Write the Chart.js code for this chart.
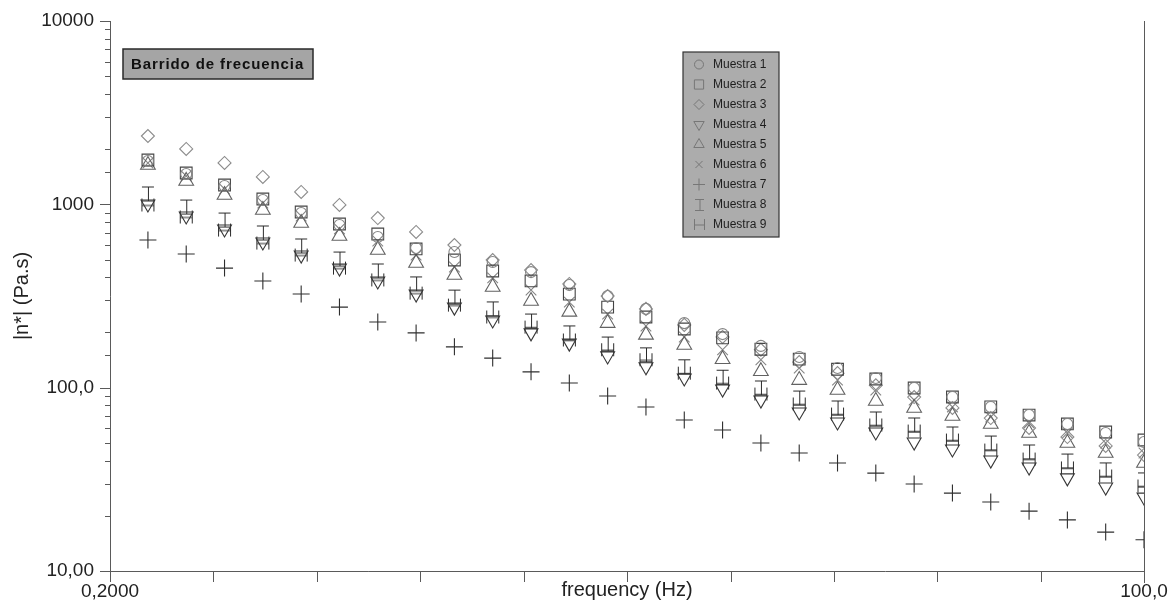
<!DOCTYPE html>
<html lang="es">
<head>
  <meta charset="UTF-8" />
  <title>Barrido de frecuencia</title>
  <style>
    html, body { margin: 0; padding: 0; background: #fff; }
    #grafico { display: block; }
  </style>
</head>
<body>
  <canvas id="grafico" width="1170" height="607"></canvas>

  <script src="https://cdn.jsdelivr.net/npm/chart.js"></script>
  <script>
    // Datos (Hz, Pa.s)
    const frecuencias = [0.2512, 0.3162, 0.3981, 0.5012, 0.6310, 0.7943, 1.000, 1.259, 1.585,
      1.995, 2.512, 3.162, 3.981, 5.012, 6.310, 7.943, 10.00, 12.59, 15.85, 19.95, 25.12,
      31.62, 39.81, 50.12, 63.10, 79.43, 100.0];

    const muestra1 = [1723, 1464, 1259, 1056, 897, 772, 663, 578, 550, 485, 427, 363, 316, 269,
      225, 196, 169, 147, 128, 113, 99.6, 88.9, 78.5, 70.9, 63.4, 56.6, 50.5];
    const muestra2 = [1745, 1482, 1275, 1069, 908, 781, 689, 571, 497, 433, 382, 324, 275, 243,
      209, 187, 162, 143, 126, 111.5, 99.6, 88.9, 78.5, 70.9, 63.4, 57.3, 51.8];
    const muestra3 = [2359, 2004, 1681, 1410, 1168, 992, 842, 707, 600, 497, 438, 368, 316, 269,
      220, 189, 161, 138, 120, 103, 88.9, 77.5, 68.3, 60.3, 53.8, 48.1, 42.9];
    const muestra4 = [1004, 864, 734, 623, 529, 449, 382, 324, 275, 234, 199, 175, 149, 130,
      113, 98.3, 85.6, 73.7, 65.0, 57.3, 50.5, 46.3, 40.3, 36.9, 32.2, 28.7, 25.3];
    const muestra5 = [1639, 1341, 1124, 931, 791, 672, 564, 479, 412, 354, 297, 259, 225, 194,
      171, 143, 123, 110, 97.1, 84.6, 77.5, 70.1, 63.4, 56.6, 49.9, 44.0, 38.8];
    const muestra6 = [1681, 1427, 1212, 1017, 864, 734, 631, 529, 455, 397, 341, 293, 252, 217,
      189, 161, 142, 128, 110, 97.1, 85.6, 78.5, 69.2, 64.2, 56.6, 49.9, 44.0];
    const muestra7 = [639, 536, 449, 382, 324, 275, 228, 199, 167, 145, 122, 106, 90.0, 78.5,
      66.6, 58.8, 49.9, 44.0, 38.8, 34.2, 29.8, 26.6, 23.8, 21.2, 19.0, 16.3, 14.8];
    const muestra8 = [1139, 967, 821, 698, 593, 503, 433, 368, 312, 269, 231, 199, 173, 151,
      130, 114, 99.6, 87.8, 77.5, 67.5, 62.6, 55.9, 49.9, 44.6, 39.8, 35.6, 31.4];
    const muestra9 = [992, 853, 724, 615, 529, 449, 387, 328, 282, 243, 214, 182, 161, 142,
      120, 106, 92.3, 81.5, 71.8, 62.6, 58.0, 51.8, 45.7, 40.8, 36.5, 33.0, 29.1];

    const nombres = ['Muestra 1', 'Muestra 2', 'Muestra 3', 'Muestra 4', 'Muestra 5',
      'Muestra 6', 'Muestra 7', 'Muestra 8', 'Muestra 9'];

    const xTicks = [0.2, 0.3724, 0.6934, 1.291, 2.404, 4.477, 8.335, 15.52, 28.90, 53.82, 100];
    const xTickText = ['0,2000', '', '', '', '', '', '', '', '', '', '100,0'];
    const yTicks = [10, 100, 1000, 10000];
    const yTickText = ['10,00', '100,0', '1000', '10000'];

    const fuente = "'Liberation Sans', Arial, sans-serif";

    // simbolos propios: I (muestra 8) y |-| (muestra 9)
    function simbolo(tipo, w, h, color) {
      const c = document.createElement('canvas');
      c.width = w + 2;
      c.height = h + 2;
      const g = c.getContext('2d');
      g.strokeStyle = color;
      g.lineWidth = 1;
      g.beginPath();
      if (tipo === 'I') {
        g.moveTo(1, 1.5); g.lineTo(w + 1, 1.5);
        g.moveTo(1, h + 0.5); g.lineTo(w + 1, h + 0.5);
        g.moveTo(w / 2 + 1.5, 1.5); g.lineTo(w / 2 + 1.5, h + 0.5);
      } else {
        g.moveTo(1.5, 1); g.lineTo(1.5, h + 1);
        g.moveTo(w + 0.5, 1); g.lineTo(w + 0.5, h + 1);
        g.moveTo(1.5, h / 2 + 1.5); g.lineTo(w + 0.5, h / 2 + 1.5);
      }
      g.stroke();
      return c;
    }

    const estilos = [
      { style: 'circle', r: 5.5, rot: 0, color: '#858585' },
      { style: 'rect', r: 8.3, rot: 0, color: '#444444' },
      { style: 'rectRot', r: 6.5, rot: 0, color: '#8c8c8c' },
      { style: 'triangle', r: 8, rot: 180, color: '#363636' },
      { style: 'triangle', r: 8.5, rot: 0, color: '#626262' },
      { style: 'crossRot', r: 7.5, rot: 0, color: '#858585' },
      { style: 'cross', r: 8.5, rot: 0, color: '#2e2e2e' },
      { style: simbolo('I', 12, 15, '#2a2a2a'), r: 7, rot: 0, color: '#2a2a2a' },
      { style: simbolo('H', 13, 13, '#2a2a2a'), r: 7, rot: 0, color: '#2a2a2a' }
    ];
    const estilosLeyenda = [
      { style: 'circle', r: 4.5 }, { style: 'rect', r: 6.5 }, { style: 'rectRot', r: 5 },
      { style: 'triangle', r: 6, rot: 180 }, { style: 'triangle', r: 6 }, { style: 'crossRot', r: 5 },
      { style: 'cross', r: 6 }, { style: simbolo('I', 9, 12, '#777') }, { style: simbolo('H', 11, 11, '#777') }
    ];

    const series = [muestra1, muestra2, muestra3, muestra4, muestra5, muestra6, muestra7, muestra8, muestra9];

    const datasets = series.map((vals, i) => ({
      label: nombres[i],
      data: frecuencias.map((f, k) => ({ x: f, y: vals[k] })),
      showLine: false,
      pointStyle: estilos[i].style,
      pointRadius: estilos[i].r,
      pointHoverRadius: estilos[i].r,
      pointRotation: estilos[i].rot,
      pointBorderWidth: 1.1,
      borderColor: estilos[i].color,
      backgroundColor: 'rgba(0,0,0,0)'
    }));

    function dibujarSimbolo(ctx, s, x, y, color) {
      ctx.save();
      ctx.strokeStyle = color;
      ctx.lineWidth = 1;
      if (typeof s.style !== 'string') {
        ctx.drawImage(s.style, Math.round(x - s.style.width / 2), Math.round(y - s.style.height / 2));
        ctx.restore();
        return;
      }
      const r = s.r;
      ctx.translate(x, y);
      ctx.rotate((s.rot || 0) * Math.PI / 180);
      ctx.beginPath();
      if (s.style === 'circle') {
        ctx.arc(0, 0, r, 0, Math.PI * 2);
      } else if (s.style === 'rect') {
        const a = r * Math.SQRT1_2;
        ctx.rect(-a, -a, 2 * a, 2 * a);
      } else if (s.style === 'rectRot') {
        ctx.moveTo(0, -r); ctx.lineTo(r, 0); ctx.lineTo(0, r); ctx.lineTo(-r, 0); ctx.closePath();
      } else if (s.style === 'triangle') {
        ctx.moveTo(0, -r);
        ctx.lineTo(r * 0.866, r / 2);
        ctx.lineTo(-r * 0.866, r / 2);
        ctx.closePath();
      } else if (s.style === 'cross') {
        ctx.moveTo(-r, 0); ctx.lineTo(r, 0); ctx.moveTo(0, -r); ctx.lineTo(0, r);
      } else if (s.style === 'crossRot') {
        const a = r * Math.SQRT1_2;
        ctx.moveTo(-a, -a); ctx.lineTo(a, a); ctx.moveTo(-a, a); ctx.lineTo(a, -a);
      }
      ctx.stroke();
      ctx.restore();
    }

    // ejes, marcas, recuadro del titulo y leyenda
    const decoracion = {
      id: 'decoracion',
      afterDraw(chart) {
        const ctx = chart.ctx;
        const a = chart.chartArea;
        const sx = chart.scales.x;
        const sy = chart.scales.y;
        ctx.save();
        ctx.strokeStyle = '#5a5a5a';
        ctx.lineWidth = 1;
        ctx.beginPath();
        ctx.moveTo(a.left + 0.5, a.top); ctx.lineTo(a.left + 0.5, a.bottom + 0.5);
        ctx.lineTo(a.right, a.bottom + 0.5);
        ctx.moveTo(a.right + 0.5, a.top); ctx.lineTo(a.right + 0.5, a.bottom + 12);
        sy.ticks.forEach(t => {
          const py = Math.round(sy.getPixelForValue(t.value)) + 0.5;
          const mayor = yTicks.some(v => Math.abs(v - t.value) / v < 1e-6);
          ctx.moveTo(a.left - (mayor ? 10 : 5), py); ctx.lineTo(a.left, py);
        });
        sx.ticks.forEach(t => {
          const px = Math.round(sx.getPixelForValue(t.value)) + 0.5;
          ctx.moveTo(px, a.bottom); ctx.lineTo(px, a.bottom + 11);
        });
        ctx.stroke();

        // recuadro "Barrido de frecuencia"
        ctx.fillStyle = '#a5a5a5';
        ctx.fillRect(123, 49, 190, 30);
        ctx.strokeStyle = '#2a2a2a';
        ctx.lineWidth = 1.5;
        ctx.strokeRect(123, 49, 190, 30);
        ctx.fillStyle = '#111';
        ctx.font = 'bold 15px ' + fuente;
        ctx.textBaseline = 'middle';
        ctx.letterSpacing = '0.9px';
        ctx.fillText('Barrido de frecuencia', 131, 64.5);
        ctx.letterSpacing = '0px';

        // leyenda
        ctx.fillStyle = '#acacac';
        ctx.fillRect(683, 52, 96, 185);
        ctx.strokeStyle = '#333';
        ctx.lineWidth = 1.2;
        ctx.strokeRect(683, 52, 96, 185);
        ctx.font = '12px ' + fuente;
        nombres.forEach((n, i) => {
          const y = 64.5 + i * 20;
          dibujarSimbolo(ctx, estilosLeyenda[i], 699, y, '#777');
          ctx.fillStyle = '#1e1e1e';
          ctx.fillText(n, 713, y + 0.5);
        });
        ctx.restore();
      }
    };

    new Chart(document.getElementById('grafico'), {
      type: 'scatter',
      data: { datasets },
      options: {
        responsive: false,
        animation: false,
        layout: { padding: { top: 21, right: 26, left: 0, bottom: 0 } },
        plugins: {
          legend: { display: false },
          tooltip: { enabled: false }
        },
        scales: {
          x: {
            type: 'logarithmic',
            min: 0.2,
            max: 100,
            afterFit: s => { s.height = 36; s.paddingLeft = 0; s.paddingRight = 0; },
            afterBuildTicks: s => { s.ticks = xTicks.map(v => ({ value: v })); },
            ticks: {
              autoSkip: false,
              maxRotation: 0,
              padding: 9,
              color: '#222',
              font: { family: fuente, size: 19 },
              callback: (v, i) => xTickText[i] || ''
            },
            grid: { display: false, drawTicks: false },
            border: { display: false },
            title: {
              display: true,
              text: 'frequency (Hz)',
              color: '#222',
              font: { family: fuente, size: 20 },
              padding: { top: 0, bottom: 5 }
            }
          },
          y: {
            type: 'logarithmic',
            min: 10,
            max: 10000,
            afterFit: s => { s.width = 110; s.paddingTop = 0; s.paddingBottom = 0; },
            ticks: {
              autoSkip: false,
              padding: 16,
              color: '#222',
              font: { family: fuente, size: 19 },
              callback: v => {
                const k = yTicks.findIndex(t => Math.abs(t - v) / t < 1e-6);
                return k >= 0 ? yTickText[k] : '';
              }
            },
            grid: { display: false, drawTicks: false },
            border: { display: false },
            title: {
              display: true,
              text: '|n*| (Pa.s)',
              color: '#222',
              font: { family: fuente, size: 20 },
              padding: { top: 10, bottom: 0 }
            }
          }
        }
      },
      plugins: [decoracion]
    });
  </script>
</body>
</html>
